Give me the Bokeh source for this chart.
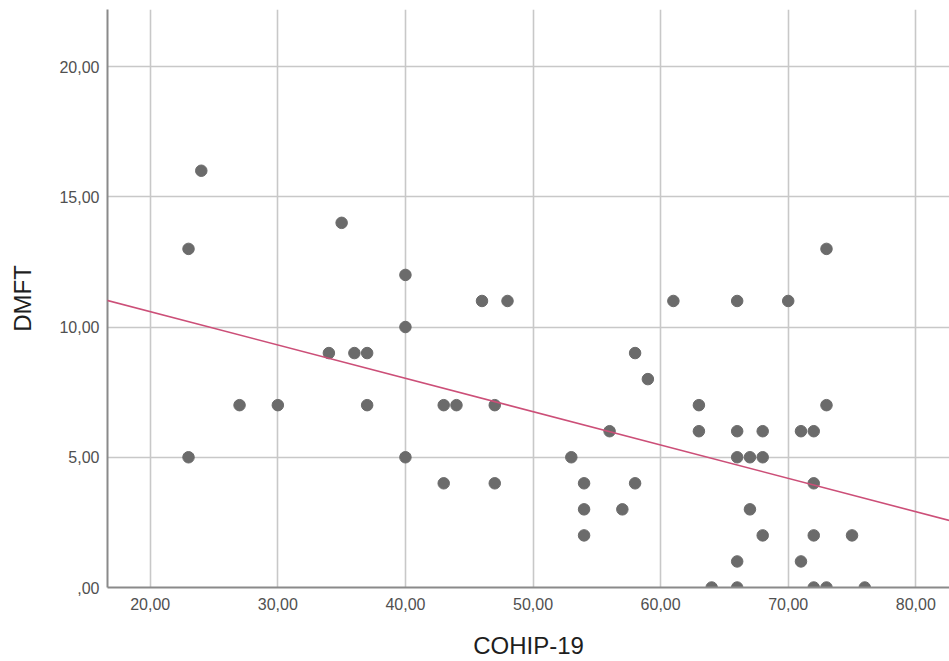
from bokeh.plotting import figure
from bokeh.models import Range1d, FixedTicker, Slope, CustomJSTickFormatter
from bokeh.embed import file_html
from bokeh.resources import INLINE

# Data
cohip19 = [23, 24, 23, 27, 30, 34, 35, 36, 37, 37, 40, 40, 40, 43, 44, 43, 46, 48,
           47, 47, 53, 54, 54, 54, 56, 57, 58, 58, 59, 61, 63, 63, 64, 66, 66, 66,
           66, 66, 67, 67, 68, 68, 68, 70, 71, 71, 72, 72, 72, 72, 73, 73, 73, 75, 76]
dmft = [13, 16, 5, 7, 7, 9, 14, 9, 9, 7, 12, 10, 5, 7, 7, 4, 11, 11,
        7, 4, 5, 4, 3, 2, 6, 3, 9, 4, 8, 11, 7, 6, 0, 11, 6, 5,
        1, 0, 5, 3, 6, 5, 2, 11, 6, 1, 6, 4, 2, 0, 13, 7, 0, 2, 0]

# Fit line
fit_intercept = 13.15
fit_slope = -0.128

x_ticks = [20, 30, 40, 50, 60, 70, 80]
y_ticks = [0, 5, 10, 15, 20]

p = figure(width=949, height=661, output_backend="svg", toolbar_location=None,
           x_range=Range1d(16.65, 82.64), y_range=Range1d(0, 22.19),
           min_border_left=107, min_border_right=0, min_border_top=9,
           min_border_bottom=74)
p.outline_line_color = None
p.background_fill_color = "white"
p.border_fill_color = "white"

fmt = CustomJSTickFormatter(code="""
    var s = tick.toFixed(2).replace('.', ',');
    if (s.startsWith('0,')) { s = s.substring(1); }
    return s;
""")

for ax in (p.xaxis, p.yaxis):
    ax.formatter = fmt
    ax.major_tick_line_color = None
    ax.minor_tick_line_color = None
    ax.major_tick_out = 0
    ax.major_tick_in = 0
    ax.axis_line_color = "#8a8a8a"
    ax.axis_line_width = 2
    ax.major_label_text_font = "Liberation Sans"
    ax.major_label_text_font_size = "16px"
    ax.major_label_text_color = "#505050"
    ax.axis_label_text_font = "Liberation Sans"
    ax.axis_label_text_font_size = "24px"
    ax.axis_label_text_font_style = "normal"
    ax.axis_label_text_color = "#1e1e1e"

p.xaxis.ticker = FixedTicker(ticks=x_ticks)
p.yaxis.ticker = FixedTicker(ticks=y_ticks)
p.xaxis.axis_label = "COHIP-19"
p.yaxis.axis_label = "DMFT"
p.xaxis.major_label_standoff = 10
p.yaxis.major_label_standoff = 8
p.xaxis.axis_label_standoff = 19
p.yaxis.axis_label_standoff = 20

p.xgrid.ticker = FixedTicker(ticks=x_ticks)
p.ygrid.ticker = FixedTicker(ticks=y_ticks)
for g in (p.xgrid, p.ygrid):
    g.grid_line_color = "#c8c8c8"
    g.grid_line_width = 1.6

p.scatter(cohip19, dmft, size=11.5, fill_color="#6b6b6b", line_color="#6b6b6b")

p.add_layout(Slope(gradient=fit_slope, y_intercept=fit_intercept,
                   line_color="#cc4f78", line_width=1.6))

open("out.html", "w").write(file_html(p, INLINE))
